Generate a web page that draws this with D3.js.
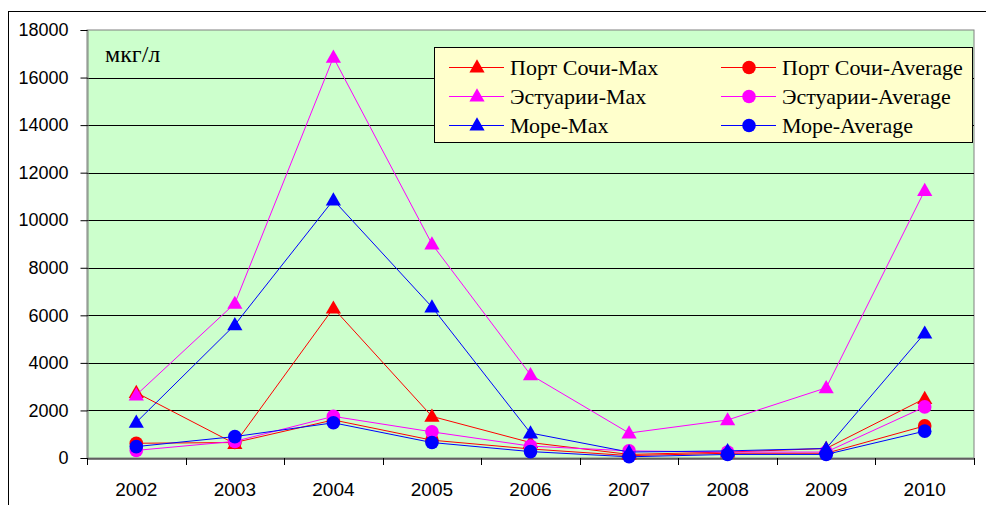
<!DOCTYPE html>
<html>
<head>
<meta charset="utf-8">
<script src="https://cdn.jsdelivr.net/npm/d3@7"></script>
<style>
	body { margin: 0; background: #fff; }
	svg { display: block; }
</style>
</head>
<body>
<svg id="chart" width="986" height="505"></svg>
<script>
const years = ["2002", "2003", "2004", "2005", "2006", "2007", "2008", "2009", "2010"];
const yTicks = [0, 2000, 4000, 6000, 8000, 10000, 12000, 14000, 16000, 18000];

const portMax = [2750, 600, 6300, 1750, 650, 150, 250, 400, 2500];
const portAvg = [620, 650, 1600, 750, 380, 100, 200, 200, 1350];
const estMax = [2650, 6500, 16850, 9000, 3500, 1050, 1600, 2950, 11250];
const estAvg = [320, 700, 1750, 1100, 500, 300, 250, 250, 2150];
const seaMax = [1500, 5600, 10850, 6350, 1050, 250, 300, 400, 5250];
const seaAvg = [480, 900, 1480, 650, 270, 50, 150, 150, 1130];

const series = [
	{ name: "Порт Сочи-Max", values: portMax, color: "#ff0000", shape: "tri" },
	{ name: "Порт Сочи-Average", values: portAvg, color: "#ff0000", shape: "dot" },
	{ name: "Эстуарии-Max", values: estMax, color: "#ff00ff", shape: "tri" },
	{ name: "Эстуарии-Average", values: estAvg, color: "#ff00ff", shape: "dot" },
	{ name: "Море-Max", values: seaMax, color: "#0000ff", shape: "tri" },
	{ name: "Море-Average", values: seaAvg, color: "#0000ff", shape: "dot" },
];

const svg = d3.select("#chart");
const plot = { left: 87, top: 30, right: 974, bottom: 458 };

// outer chart frame
svg.append("rect")
	.attr("x", 8.5).attr("y", 11.5)
	.attr("width", 1000).attr("height", 600)
	.attr("fill", "#fff").attr("stroke", "#000");

const x = d3.scaleBand().domain(years).range([plot.left, plot.right]);
const y = d3.scaleLinear().domain([0, 18000]).range([plot.bottom, plot.top]);

// plot background
svg.append("rect")
	.attr("x", plot.left).attr("y", plot.top)
	.attr("width", plot.right - plot.left).attr("height", plot.bottom - plot.top)
	.attr("fill", "#ccffcc").attr("stroke", "#808080");

// gridlines
svg.append("g")
	.selectAll("line")
	.data(yTicks.slice(1, -1))
	.join("line")
	.attr("x1", plot.left).attr("x2", plot.right)
	.attr("y1", (d) => Math.round(y(d)) + 0.5).attr("y2", (d) => Math.round(y(d)) + 0.5)
	.attr("stroke", "#000");

// axes
const yAxis = svg.append("g")
	.attr("transform", `translate(${plot.left + 0.5},0)`)
	.call(d3.axisLeft(y).tickValues(yTicks).tickSize(7).tickPadding(12).tickFormat(d3.format("d")));
yAxis.select(".domain").attr("stroke", "#808080");
yAxis.selectAll("text")
	.attr("font-family", "Liberation Sans, Arial, sans-serif")
	.attr("font-size", 18).attr("fill", "#000");

const xAxis = svg.append("g")
	.attr("transform", `translate(0,${plot.bottom + 0.5})`)
	.call(d3.axisBottom(x).tickSize(0).tickPadding(24));
xAxis.select(".domain").attr("stroke", "#000");
xAxis.selectAll("text")
	.attr("font-family", "Liberation Sans, Arial, sans-serif")
	.attr("font-size", 19).attr("fill", "#000");

// x ticks at category boundaries
const bounds = years.map((d) => x(d)).concat([plot.right]);
svg.append("g")
	.selectAll("line")
	.data(bounds)
	.join("line")
	.attr("x1", (d) => Math.round(d) + 0.5).attr("x2", (d) => Math.round(d) + 0.5)
	.attr("y1", plot.bottom).attr("y2", plot.bottom + 7)
	.attr("stroke", "#000");

// unit label
svg.append("text")
	.attr("x", 105).attr("y", 62)
	.attr("font-family", "Liberation Serif, Times New Roman, serif")
	.attr("font-size", 24)
	.text("мкг/л");

// lines and markers
const cx = (i) => x(years[i]) + x.bandwidth() / 2;
const line = d3.line().x((d, i) => cx(i)).y((d) => y(d));
const triangle = d3.symbol().type(d3.symbolTriangle).size(100);

series.forEach((s) => {
	const g = svg.append("g");
	g.append("path")
		.attr("d", line(s.values))
		.attr("fill", "none")
		.attr("stroke", s.color)
		.attr("stroke-width", 1);
	if (s.shape === "tri") {
		g.selectAll("path.m")
			.data(s.values)
			.join("path")
			.attr("class", "m")
			.attr("d", triangle)
			.attr("transform", (d, i) => `translate(${cx(i)},${y(d) + 1})`)
			.attr("fill", s.color);
	} else {
		g.selectAll("circle")
			.data(s.values)
			.join("circle")
			.attr("cx", (d, i) => cx(i))
			.attr("cy", (d) => y(d))
			.attr("r", 6.8)
			.attr("fill", s.color);
	}
});

// legend
const legend = svg.append("g");
legend.append("rect")
	.attr("x", 434.5).attr("y", 47.5)
	.attr("width", 538).attr("height", 95)
	.attr("fill", "#ffffcc").attr("stroke", "#000");

const colX = [449, 721];
const rowY = [67, 96, 125];
series.forEach((s, i) => {
	const lx = colX[i % 2];
	const ly = rowY[Math.floor(i / 2)];
	const item = legend.append("g").attr("transform", `translate(${lx},${ly})`);
	item.append("line")
		.attr("x1", 0).attr("x2", 55)
		.attr("y1", 0.5).attr("y2", 0.5)
		.attr("stroke", s.color);
	if (s.shape === "tri") {
		item.append("path").attr("d", triangle).attr("transform", "translate(28,1)").attr("fill", s.color);
	} else {
		item.append("circle").attr("cx", 28).attr("cy", 0.5).attr("r", 6.8).attr("fill", s.color);
	}
	item.append("text")
		.attr("x", 61).attr("y", 7.5)
		.attr("font-family", "Liberation Serif, Times New Roman, serif")
		.attr("font-size", 22)
		.text(s.name);
});
</script>
</body>
</html>
